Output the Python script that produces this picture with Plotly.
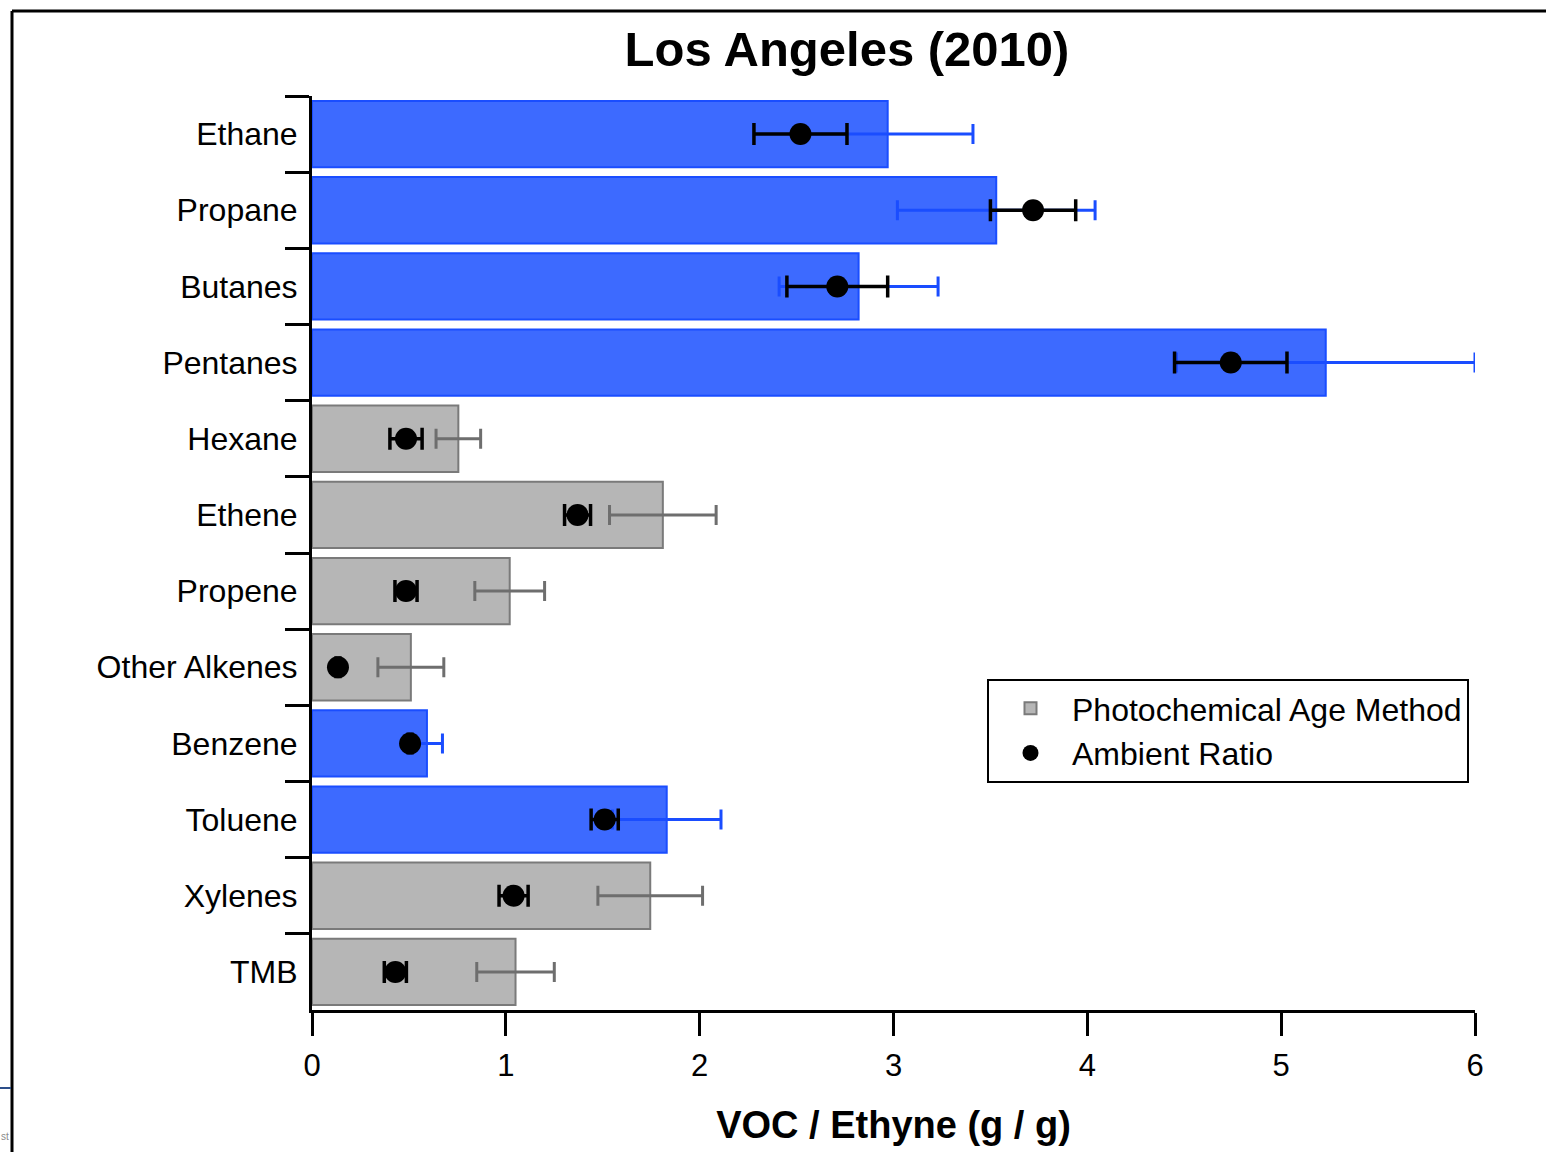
import plotly.graph_objects as go

# ---------------- data ----------------
compounds = ["Ethane", "Propane", "Butanes", "Pentanes", "Hexane", "Ethene",
             "Propene", "Other Alkenes", "Benzene", "Toluene", "Xylenes", "TMB"]
# Photochemical Age Method (bars) and their uncertainty
pam_ratio = [2.97, 3.53, 2.82, 5.23, 0.755, 1.81, 1.02, 0.51, 0.593, 1.83, 1.745, 1.05]
pam_err = [0.44, 0.51, 0.41, 0.77, 0.115, 0.275, 0.18, 0.17, 0.08, 0.28, 0.27, 0.20]
# Ambient ratio (points) and their uncertainty
ambient_ratio = [2.52, 3.72, 2.71, 4.74, 0.485, 1.37, 0.485, 0.134, 0.506, 1.51, 1.04, 0.43]
ambient_err = [0.24, 0.22, 0.26, 0.29, 0.083, 0.067, 0.057, 0.01, 0.01, 0.07, 0.075, 0.057]
# compounds drawn highlighted (blue)
highlighted = ["Ethane", "Propane", "Butanes", "Pentanes", "Benzene", "Toluene"]
x_ticks = [0, 1, 2, 3, 4, 5, 6]

title_text = "Los Angeles (2010)"
x_title = "VOC / Ethyne (g / g)"

# ---------------- layout geometry ----------------
W, H = 1546, 1152
ML, MR, MT, MB = 312, 71, 96, 142
PW, PH = W - ML - MR, H - MT - MB


def px_x(p):
    return (p - ML) / PW


def px_y(p):
    return (H - MB - p) / PH


FONT = "Liberation Sans, Arial, Helvetica, sans-serif"
BLUE_FILL = "#3d6aff"
BLUE_LINE = "#1a4dff"
GRAY_FILL = "#b6b6b6"
GRAY_LINE = "#7a7a7a"
GRAY_ERR = "#6e6e6e"


def subset(values, keep):
    return [v for c, v in zip(compounds, values) if (c in highlighted) == keep]


gray_names = subset(compounds, False)
blue_names = subset(compounds, True)

fig = go.Figure()

fig.add_trace(go.Bar(
    orientation="h",
    y=gray_names, x=subset(pam_ratio, False),
    name="Photochemical Age Method",
    marker=dict(color=GRAY_FILL, line=dict(color=GRAY_LINE, width=2)),
    error_x=dict(type="data", array=subset(pam_err, False), color=GRAY_ERR,
                 thickness=3, width=10),
    showlegend=True,
))
fig.add_trace(go.Bar(
    orientation="h",
    y=blue_names, x=subset(pam_ratio, True),
    name="Photochemical Age Method (highlighted)",
    marker=dict(color=BLUE_FILL, line=dict(color=BLUE_LINE, width=2)),
    error_x=dict(type="data", array=subset(pam_err, True), color=BLUE_LINE,
                 thickness=3, width=10),
    showlegend=False,
))
fig.add_trace(go.Scatter(
    y=compounds, x=ambient_ratio, mode="markers",
    name="Ambient Ratio",
    marker=dict(color="black", size=22, symbol="circle"),
    error_x=dict(type="data", array=ambient_err, color="black",
                 thickness=3.5, width=11),
))

fig.update_layout(
    width=W, height=H,
    margin=dict(l=ML, r=MR, t=MT, b=MB, pad=0),
    paper_bgcolor="white", plot_bgcolor="white",
    barmode="overlay", bargap=0.13,
    font=dict(family=FONT, size=32, color="black"),
    title=dict(text="<b>" + title_text + "</b>", x=847 / W, xref="container",
               xanchor="center", y=1 - 49 / H, yref="container", yanchor="middle",
               font=dict(size=49, family=FONT, color="black")),
    legend=dict(x=px_x(987), y=px_y(679), xanchor="left", yanchor="top",
                bordercolor="black", borderwidth=2, bgcolor="white",
                font=dict(size=32, family=FONT), itemwidth=73,
                tracegroupgap=0),
    xaxis=dict(range=[0, 6], tickvals=x_ticks, ticks="outside", ticklen=23,
               tickwidth=2.5, tickcolor="black", showline=True, linewidth=3,
               linecolor="black", showgrid=False, zeroline=False,
               ticklabelstandoff=3, tickfont=dict(size=31),
               title=dict(text="<b>" + x_title + "</b>",
                          font=dict(size=38, family=FONT), standoff=30)),
    yaxis=dict(type="category", categoryorder="array", categoryarray=compounds,
               range=[len(compounds) - 0.5, -0.5], tickson="boundaries",
               ticks="outside", ticklen=24, tickwidth=2.5, tickcolor="black",
               showline=True, linewidth=3, linecolor="black", showgrid=False,
               zeroline=False, ticklabelstandoff=5),
)

# outer frame of the figure
fig.add_shape(type="line", xref="paper", yref="paper",
              x0=px_x(12), x1=px_x(W + 10), y0=px_y(11), y1=px_y(11),
              line=dict(color="black", width=3))
fig.add_shape(type="line", xref="paper", yref="paper",
              x0=px_x(12), x1=px_x(12), y0=px_y(11), y1=px_y(H + 10),
              line=dict(color="black", width=3))
# screenshot remnants at the lower-left corner
fig.add_shape(type="line", xref="paper", yref="paper",
              x0=px_x(0), x1=px_x(11), y0=px_y(1088), y1=px_y(1088),
              line=dict(color="#2d4f8a", width=2))
fig.add_annotation(text="st", xref="paper", yref="paper", x=px_x(0), y=px_y(1136),
                   xanchor="left", yanchor="middle", showarrow=False,
                   borderpad=0, font=dict(size=10, color="#8a8a8a", family=FONT))

fig.write_html("out.html")
